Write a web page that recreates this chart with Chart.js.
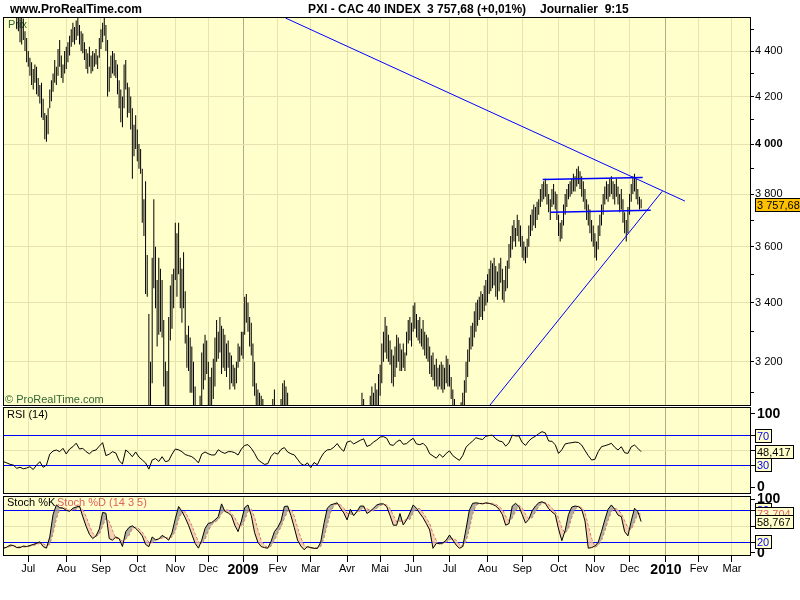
<!DOCTYPE html>
<html>
<head>
<meta charset="utf-8">
<title>PXI - CAC 40 INDEX</title>
<script src="https://cdn.jsdelivr.net/npm/chart.js@4.4.0/dist/chart.umd.min.js"></script>
<style>
  body { margin: 0; width: 800px; height: 600px; background: #fff; position: relative; overflow: hidden;
         font-family: "Liberation Sans", Arial, sans-serif; }
  .hdr { position: absolute; top: 2px; font-size: 12px; line-height: 14px; font-weight: bold; white-space: pre; color: #000; z-index: 5; }
  canvas { position: absolute; left: 0; top: 0; }
</style>
</head>
<body>
<div class="hdr" style="left:10px">www.ProRealTime.com</div>
<div class="hdr" style="left:308px">PXI - CAC 40 INDEX</div>
<div class="hdr" style="left:427px">3 757,68 (+0,01%)</div>
<div class="hdr" style="left:540px">Journalier  9:15</div>

<canvas id="prix" width="800" height="600" style="width:800px;height:600px"></canvas>
<canvas id="rsi" width="800" height="600" style="width:800px;height:600px"></canvas>
<canvas id="stoch" width="800" height="600" style="width:800px;height:600px"></canvas>

<script>
// time axis: index of the first trading day of each month
const monthLabels = ['Jul','Aou','Sep','Oct','Nov','Dec','2009','Fev','Mar','Avr','Mai','Jun','Jul','Aou','Sep','Oct','Nov','Dec','2010','Fev','Mar'];
const monthStart = [13,36,57,79,102,122,143,164,184,206,226,246,268,291,312,334,356,377,399,419,439];

// daily highs / lows, one per trading day from mid june 2008
const highs = [
  // jun 08
  4790,4820,4830,4770,4700,4650,4620,4600,4580,4560,4550,4490,4460,
  // jul
  4400,4370,4350,4320,4340,4330,4280,4250,4260,4190,4130,4120,4150,4230,4270,4300,4360,4330,4410,4450,4380,4340,4400,
  // aou
  4420,4440,4470,4500,4530,4510,4540,4570,4520,4490,4480,4440,4410,4390,4420,4380,4400,4390,4410,4380,4460,
  // sep
  4500,4530,4580,4520,4450,4330,4380,4400,4390,4360,4340,4270,4230,4200,4340,4360,4260,4240,4200,4150,4080,4120,
  // oct
  4060,4000,3980,3900,3780,3850,3570,3360,3200,3560,3780,3600,3480,3560,3520,3480,3340,3200,3170,3350,3460,3500,3520,
  // nov
  3690,3650,3690,3560,3520,3580,3440,3290,3320,3280,3250,3200,3120,3060,2990,3090,3230,3260,3290,3270,
  // dec
  3200,3150,3180,3210,3280,3340,3300,3350,3320,3310,3290,3260,3270,3230,3220,3190,3180,3200,3260,3250,3300,
  // jan 09
  3300,3420,3430,3400,3350,3330,3260,3200,3130,3110,3100,3090,3080,3000,2960,2980,3000,2990,3080,3110,3060,
  // fev
  3020,3050,3080,3130,3140,3120,3100,3010,2980,2950,2900,2880,2850,2830,2790,2800,2840,2810,2790,2760,
  // mar
  2720,2680,2650,2640,2600,2570,2560,2600,2660,2700,2730,2760,2780,2800,2840,2880,2870,2840,2850,2820,2860,2830,
  // avr
  2920,2960,2980,3020,3050,3040,3030,3000,3060,3100,3080,3040,3000,3060,3090,3120,3100,3130,3110,3160,
  // mai
  3190,3260,3300,3350,3320,3290,3270,3240,3220,3250,3290,3280,3260,3240,3260,3230,3300,3340,3350,3330,
  // jun
  3390,3400,3360,3340,3350,3310,3340,3300,3290,3280,3250,3220,3230,3190,3210,3180,3190,3200,3190,3180,3220,3210,
  // jul
  3190,3150,3110,3080,3060,3050,3040,3070,3100,3140,3200,3240,3280,3320,3330,3370,3400,3410,3420,3440,3430,3460,3480,
  // aou
  3500,3520,3550,3540,3560,3530,3510,3540,3560,3520,3480,3530,3550,3610,3640,3680,3700,3670,3720,3700,3680,
  // sep
  3640,3620,3600,3630,3680,3720,3740,3760,3750,3770,3780,3820,3840,3850,3860,3840,3800,3780,3820,3840,3810,3800,
  // oct
  3720,3690,3700,3760,3800,3820,3840,3850,3860,3880,3870,3900,3910,3890,3870,3850,3820,3780,3760,3740,3700,3680,
  // nov
  3650,3620,3680,3720,3760,3800,3830,3850,3840,3860,3870,3850,3840,3860,3830,3800,3820,3780,3730,3700,3750,
  // dec
  3800,3840,3870,3880,3860,3820,3790,3780
];
const lows = [
  4700,4730,4740,4680,4590,4560,4500,4490,4440,4430,4450,4400,4350,
  4330,4290,4250,4230,4260,4210,4200,4170,4110,4100,4020,4010,4040,4150,4180,4220,4260,4250,4290,4330,4280,4260,4300,
  4320,4350,4380,4420,4440,4430,4450,4470,4430,4400,4390,4360,4320,4300,4330,4300,4310,4330,4340,4320,4370,
  4410,4440,4470,4400,4200,4220,4280,4300,4290,4280,4210,4150,4090,4070,4150,4230,4110,4130,4060,3860,3950,3980,
  3930,3900,3880,3690,3640,3430,3420,3050,2900,3130,3450,3380,3250,3290,3300,3280,3120,3010,2950,3050,3270,3310,3380,
  3480,3420,3500,3380,3330,3380,3260,3180,3170,3100,3100,3030,2960,2880,2860,2900,3010,3110,3140,3160,
  3060,3040,3060,3080,3120,3200,3210,3230,3160,3180,3170,3150,3180,3110,3130,3120,3110,3130,3180,3200,3220,
  3210,3290,3330,3300,3250,3220,3120,3090,3030,2990,2950,2960,2940,2870,2840,2850,2880,2900,2950,3000,2960,
  2940,2960,3000,3030,3050,3020,3000,2920,2900,2870,2800,2790,2760,2750,2700,2720,2760,2730,2700,2680,
  2640,2600,2560,2560,2520,2490,2470,2480,2560,2600,2640,2670,2700,2720,2760,2790,2780,2750,2760,2730,2770,2760,
  2830,2860,2900,2930,2960,2970,2950,2940,2980,3010,3000,2950,2920,2960,3000,3030,3020,3050,3040,3060,
  3090,3130,3200,3230,3210,3200,3190,3130,3120,3150,3180,3200,3170,3170,3180,3170,3220,3260,3270,3250,
  3300,3310,3280,3270,3260,3250,3240,3220,3210,3200,3160,3150,3140,3120,3120,3110,3120,3110,3100,3110,3130,3120,
  3120,3080,3040,3010,2990,2980,2970,2990,3020,3060,3100,3150,3200,3240,3250,3280,3300,3320,3340,3350,3340,3370,3390,
  3400,3430,3440,3450,3460,3420,3410,3440,3470,3410,3400,3440,3450,3520,3560,3590,3620,3600,3640,3620,3600,
  3560,3550,3540,3560,3600,3640,3660,3680,3670,3700,3720,3750,3770,3780,3790,3760,3730,3700,3750,3760,3740,3700,
  3640,3620,3630,3680,3720,3750,3780,3790,3800,3810,3810,3830,3840,3820,3790,3770,3740,3700,3680,3650,3620,3600,
  3560,3550,3590,3640,3680,3720,3760,3780,3770,3790,3800,3780,3760,3790,3760,3730,3740,3690,3650,3620,3650,
  3720,3770,3800,3810,3780,3760,3740,3745
];
const lastPrice = 3757.68;
const priceTicks = [3100,3200,3300,3400,3500,3600,3700,3800,3900,4000,4100,4200,4300,4400,4500];

// hand drawn lines, [trading day index, price]
const resistanceLine = [[168.7, 4552], [410.5, 3773]];
const supportLine = [[292.5, 3061], [396.8, 3811]];
const rangeTop = [[324.4, 3857], [384.9, 3865]];
const rangeBottom = [[329.2, 3730], [389.8, 3738]];

// indicators, one value every 2 trading days starting at index -2
const indStart = -2, indStep = 2;
const rsiValues = [
  34.7,33,31,30,25.6,27,25,26,27.8,24,
  30,34.7,27,30,45,49.3,50.7,48.4,53,45.2,
  52,55.2,60,52,53,48.4,45.5,49.5,50.7,56,
  60.7,43,45,48.4,46.5,36,31.5,50.7,47,41.5,
  48,41,37,33,24.5,37,39,35,41.5,34.7,
  36,45,52,51,48.4,44.5,43,41.5,38,33,
  45,48,45.5,43.8,44,51,48,46,48.4,48.4,
  47,43.8,52,57,58,53,46,37.5,34,31,
  32,42,47,45,51.5,54,48,45.5,44,38,
  32,29.5,33,26.5,33.5,30.5,40,47,50.8,51.4,
  54.5,59.5,53,49,61.5,63,59,61.5,64,66,
  55.5,57.5,61.5,64.5,68.5,69,66.7,58,57,62,
  64.4,58.5,59.5,63.5,66.7,59,58,59.8,55.2,45.5,
  42.5,39.5,45,40.7,46,49.5,43,39.5,36.5,43,
  54.5,59,63,67.5,66,65,69.5,70.5,71,66,
  63,62,56,60.5,71,70,70,61,57,63,
  67,69.5,73,75.8,74,63,62.5,58,46,51,
  59,60,60.7,61.5,61,57.5,50,43,37,37.9,
  48.4,55.2,56.5,58,59.8,54.4,50.7,55.2,47,46,
  55,57.5,53,48.417
];
const stochK = [
  8.7,11,15,14,10,10,13,12,14,16,
  18,21,12,9,30,72,90,85,83.8,80,
  78,83.8,86,88,68,50,35,27,32,45,
  76,74.4,27,24,30,27,12,40,48,51,
  46,40,32,16,11.8,30,25,26,33,29,
  24,38,64,87,78,66,52,35,18,9,
  24,46,55.6,57,62,68,92,78,75,70,
  52,40,60,85,90,70,38,20,12,10,
  9,22,40,48,60,87,88,70,48,24,
  13,6,12,10,8.7,8.7,20,55,84,90,
  92,94,84,75,62,82,70,78,88,88,
  74,78,84,90,92,92,86.8,70,52,52,
  74,52.5,62,75,90,83.8,74.4,66,55,43,
  8.7,18,18,19,24,33.7,24.3,15,8.7,12,
  45,80,93,94,93,92,94,93,91,88,
  82,72,52,55,88,93,87,72,56,63,
  79,88,94,96,93,83,77,72,45,23,
  42,72,86,88,86.8,82,60,9,10,13,
  20,40,62,82,90,82,71,68,40,32,
  60,83.8,77.4,58.767
];
const stochD = [
  10,10,12,13,12.5,11,11,12,13,14,
  16,18,17,14,16,37,64,82,86,83,
  80,80,82,86,81,68,51,37,31,35,
  51,65,59,42,27,27,22,26,33,46,
  48,45,39,29,20,19,23,27,28,29,
  28,30,42,63,76,77,65,51,35,21,
  17,26,42,53,58,62,74,79,82,74,
  66,54,51,62,78,82,66,43,23,14,
  10,13,24,37,49,65,78,82,69,47,
  28,14,10,9.5,10,9,12,28,53,76,
  89,92,90,84,74,73,71,77,79,85,
  83,80,79,84,89,91,90,83,70,58,
  59,60,63,63,76,83,83,75,65,55,
  36,23,15,18,20,25,27,24,16,12,
  22,45,73,89,93,93,93,93,93,91,
  87,81,69,60,65,79,89,84,72,64,
  66,77,87,93,94,91,84,77,65,47,
  37,46,67,82,87,85,76,50,27,11,
  14,24,41,61,78,84,81,74,60,47,
  44,58,74,73.704
];

const FONT = '"Liberation Sans", Arial, sans-serif';
const BG = '#FFFFCC';
const monthGrid = '#E8E2AE';
const yearGrid = '#B4AC84';
const BLUE = '#0000FF';

Chart.defaults.font.family = FONT;
Chart.defaults.font.size = 11;
Chart.defaults.color = '#000';
Chart.defaults.animation = false;

function thousands(v) {
  var s = String(Math.round(v));
  return s.length > 3 ? s.slice(0, -3) + ' ' + s.slice(-3) : s;
}
function frPrice(v) {
  var p = v.toFixed(2).split('.');
  return thousands(+p[0]) + ',' + p[1];
}
function frDec(v) { return v.toFixed(3).replace('.', ','); }
function isYear(v) { var k = monthStart.indexOf(v); return k >= 0 && monthLabels[k].length === 4; }
function series(arr) { return arr.map((v, k) => ({ x: indStart + k * indStep, y: v })); }
function pts(line) { return line.map(p => ({ x: p[0], y: p[1] })); }

// panel background + black frame
const panel = {
  id: 'panel',
  beforeDraw(chart) {
    const a = chart.chartArea, ctx = chart.ctx;
    ctx.save();
    ctx.fillStyle = BG;
    ctx.fillRect(a.left, a.top, a.right - a.left, a.bottom - a.top);
    ctx.restore();
  },
  afterDraw(chart) {
    const a = chart.chartArea, ctx = chart.ctx;
    ctx.save();
    ctx.strokeStyle = '#000';
    ctx.lineWidth = 1;
    ctx.strokeRect(Math.round(a.left) - 0.5, Math.round(a.top) - 0.5, Math.round(a.right - a.left) + 1, Math.round(a.bottom - a.top) + 1);
    ctx.restore();
  }
};

function writeAll(ctx, list) {
  (list || []).forEach(t => {
    ctx.save();
    ctx.font = (t.bold ? 'bold ' : '') + (t.size || 11) + 'px ' + FONT;
    ctx.fillStyle = t.color || '#000';
    ctx.fillText(t.text, t.x, t.y);
    ctx.restore();
  });
}
// small texts inside the panels
const notes = {
  id: 'notes',
  beforeDatasetsDraw(chart, args, opts) { writeAll(chart.ctx, opts.under); },
  afterDatasetsDraw(chart, args, opts) { writeAll(chart.ctx, opts.over); }
};

// boxed values on the right scale
const tags = {
  id: 'tags',
  afterDraw(chart, args, opts) {
    const ctx = chart.ctx, sc = chart.scales.y;
    (opts.items || []).forEach(it => {
      const py = Math.round(sc.getPixelForValue(it.value));
      ctx.save();
      ctx.font = '11px ' + FONT;
      const w = Math.round(ctx.measureText(it.text).width) + 4;
      ctx.fillStyle = it.bg || BG;
      ctx.fillRect(755, py - 7, w, 14);
      ctx.strokeStyle = '#000';
      ctx.lineWidth = 1;
      ctx.strokeRect(755.5, py - 6.5, w, 13);
      ctx.fillStyle = it.color || '#000';
      ctx.textBaseline = 'middle';
      ctx.fillText(it.text, 757, py + 1);
      ctx.restore();
    });
  }
};

function timeAxis(showLabels) {
  return {
    type: 'linear', min: -1.7, max: 449.9, offset: false,
    afterBuildTicks: s => { s.ticks = monthStart.map(v => ({ value: v })); },
    afterFit: s => { s.height = showLabels ? 25 : 0; },
    border: { display: false },
    grid: {
      offset: false,
      color: c => (c.tick && isYear(c.tick.value)) ? yearGrid : monthGrid,
      drawTicks: showLabels, tickLength: 7, tickColor: '#000'
    },
    ticks: {
      display: showLabels, autoSkip: false, maxRotation: 0, minRotation: 0, padding: 0, color: '#000',
      callback: v => monthLabels[monthStart.indexOf(v)],
      font: c => (c.tick && isYear(c.tick.value)) ? { size: 14, weight: 'bold' } : { size: 11 }
    }
  };
}

function trend(line, w) {
  return { type: 'line', data: pts(line), borderColor: BLUE, borderWidth: w, pointRadius: 0, clip: 0, order: 0 };
}

// ---- price panel
new Chart(document.getElementById('prix'), {
  type: 'bar',
  data: {
    datasets: [
      trend(resistanceLine, 1),
      trend(supportLine, 1),
      trend(rangeTop, 1.5),
      trend(rangeBottom, 1.5),
      {
        type: 'bar',
        data: highs.map((h, i) => ({ x: i, y: [lows[i], h] })),
        backgroundColor: '#000', borderWidth: 0, inflateAmount: 0, barThickness: 1,
        grouped: false, clip: 0, order: 1
      }
    ]
  },
  options: {
    responsive: false,
    layout: { padding: { left: 4, right: 0, top: 18, bottom: 195 } },
    plugins: {
      legend: { display: false }, tooltip: { enabled: false },
      notes: {
        under: [{ text: 'Prix', x: 8, y: 28, color: '#336633' }],
        over: [{ text: '\u00A9 ProRealTime.com', x: 5, y: 403, color: '#336633' }]
      },
      tags: { items: [{ value: lastPrice, text: frPrice(lastPrice), bg: '#FFC000', color: '#000' }] }
    },
    scales: {
      x: timeAxis(false),
      y: {
        type: 'logarithmic', position: 'right', min: 3061, max: 4552,
        afterBuildTicks: s => { s.ticks = priceTicks.map(v => ({ value: v })); },
        afterFit: s => { s.width = 50; },
        border: { color: '#000', width: 1 },
        grid: {
          color: c => (c.tick && c.tick.value % 200 === 0) ? monthGrid : 'rgba(0,0,0,0)',
          tickLength: 4, tickColor: '#000'
        },
        ticks: {
          autoSkip: false, padding: 1, color: '#000',
          callback: v => (v % 200 === 0 ? thousands(v) : ''),
          font: c => (c.tick && c.tick.value === 4000) ? { size: 11, weight: 'bold' } : { size: 11 }
        }
      }
    }
  },
  plugins: [panel, notes, tags]
});

// ---- RSI (14)
new Chart(document.getElementById('rsi'), {
  type: 'line',
  data: {
    datasets: [{ data: series(rsiValues), borderColor: '#000', borderWidth: 1, pointRadius: 0, clip: 0 }]
  },
  options: {
    responsive: false,
    layout: { padding: { left: 4, right: 0, top: 408, bottom: 107 } },
    plugins: {
      legend: { display: false }, tooltip: { enabled: false },
      notes: { over: [{ text: 'RSI (14)', x: 7, y: 418 }] },
      tags: { items: [
        { value: 70, text: '70', color: BLUE },
        { value: 30, text: '30', color: BLUE },
        { value: rsiValues[rsiValues.length - 1], text: frDec(rsiValues[rsiValues.length - 1]), color: '#000' }
      ] }
    },
    scales: {
      x: timeAxis(false),
      y: {
        position: 'right', min: -8.2, max: 108.2,
        afterBuildTicks: s => { s.ticks = [0, 30, 50, 70, 100].map(v => ({ value: v })); },
        afterFit: s => { s.width = 50; },
        border: { color: '#000', width: 1 },
        grid: {
          color: c => { const v = c.tick && c.tick.value; return (v === 30 || v === 70) ? BLUE : (v === 50 ? monthGrid : 'rgba(0,0,0,0)'); },
          tickLength: 5, tickColor: '#000'
        },
        ticks: {
          autoSkip: false, padding: 2, color: '#000',
          callback: v => (v === 0 || v === 100 ? String(v) : ''),
          font: { size: 14, weight: 'bold' }
        }
      }
    }
  },
  plugins: [panel, notes, tags]
});

// ---- Stochastic
new Chart(document.getElementById('stoch'), {
  type: 'line',
  data: {
    datasets: [
      {
        data: series(stochK), borderColor: '#000', borderWidth: 1, pointRadius: 0, clip: 0,
        fill: { target: 1, above: 'rgba(150,150,150,0.75)', below: 'rgba(242,190,165,0.7)' }
      },
      { data: series(stochD), borderColor: '#E05A5A', borderWidth: 1, borderDash: [3, 2], pointRadius: 0, clip: 0 }
    ]
  },
  options: {
    responsive: false,
    layout: { padding: { left: 4, right: 0, top: 497, bottom: 20 } },
    plugins: {
      legend: { display: false }, tooltip: { enabled: false },
      notes: { over: [
        { text: 'Stoch %K', x: 7, y: 506 },
        { text: 'Stoch %D (14 3 5)', x: 57, y: 506, color: '#E06060' }
      ] },
      tags: { items: [
        { value: 80, text: '80', color: BLUE },
        { value: 20, text: '20', color: BLUE },
        { value: stochD[stochD.length - 1], text: frDec(stochD[stochD.length - 1]), color: '#E05A5A' },
        { value: stochK[stochK.length - 1], text: frDec(stochK[stochK.length - 1]), color: '#000' }
      ] }
    },
    scales: {
      x: timeAxis(true),
      y: {
        position: 'right', min: -3.8, max: 104.9,
        afterBuildTicks: s => { s.ticks = [0, 20, 50, 80, 100].map(v => ({ value: v })); },
        afterFit: s => { s.width = 50; },
        border: { color: '#000', width: 1 },
        grid: {
          color: c => { const v = c.tick && c.tick.value; return (v === 20 || v === 80) ? BLUE : (v === 50 ? monthGrid : 'rgba(0,0,0,0)'); },
          tickLength: 5, tickColor: '#000'
        },
        ticks: {
          autoSkip: false, padding: 2, color: '#000',
          callback: v => (v === 0 || v === 100 ? String(v) : ''),
          font: { size: 14, weight: 'bold' }
        }
      }
    }
  },
  plugins: [panel, notes, tags]
});
</script>
</body>
</html>
